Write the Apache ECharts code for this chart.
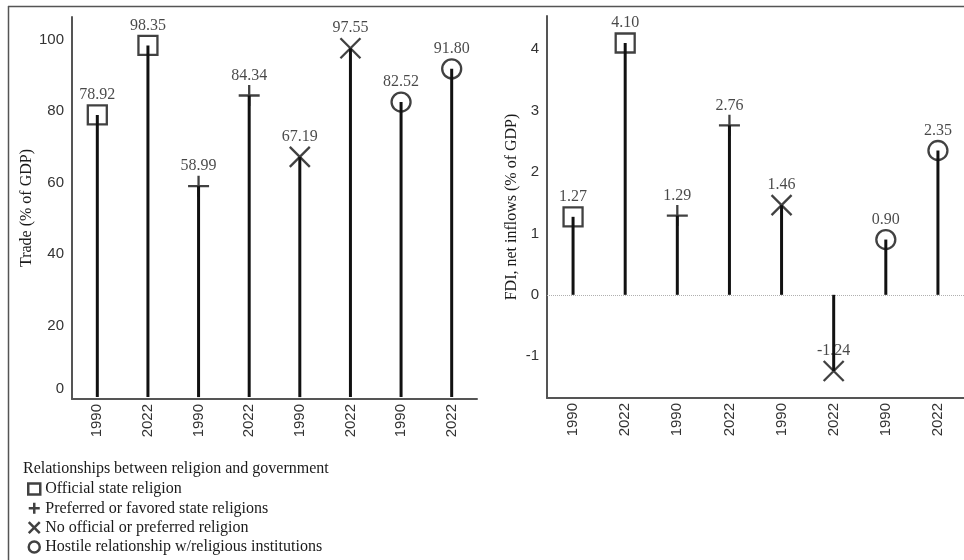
<!DOCTYPE html>
<html>
<head>
<meta charset="utf-8">
<title>Trade and FDI by religion–government relationship</title>
<script src="https://cdn.jsdelivr.net/npm/echarts@6/dist/echarts.min.js"></script>
<style>
  html, body { margin: 0; padding: 0; background: #fff; }
  #chart { width: 964px; height: 560px; }
</style>
</head>
<body>
<div id="chart"></div>
<script>
// Category labels along both x axes (two years per group)
const years = ['1990', '2022', '1990', '2022', '1990', '2022', '1990', '2022'];

// Relationship groups, in the order they appear along the axis
const groups = [
  'Official state religion',
  'Preferred or favored state religions',
  'No official or preferred religion',
  'Hostile relationship w/religious institutions'
];

// Trade (% of GDP), one value per category slot
const trade = [78.92, 98.35, 58.99, 84.34, 67.19, 97.55, 82.52, 91.80];

// FDI, net inflows (% of GDP), one value per category slot
const fdi = [1.27, 4.10, 1.29, 2.76, 1.46, -1.24, 0.90, 2.35];

// Marker shape for each group
const symbols = [
  'rect',
  'path://M0,10L20,10M10,0L10,20',
  'path://M0,0L20,20M20,0L0,20',
  'circle'
];
const symbolSizes = [19, 21, 20, 19];

const SERIF = '"Liberation Serif", "Times New Roman", serif';
const SANS = '"Liberation Sans", Arial, sans-serif';

function stemSeries(values, axisIdx, withZeroLine) {
  const s = {
    type: 'bar',
    name: 'stem' + axisIdx,
    xAxisIndex: axisIdx,
    yAxisIndex: axisIdx,
    data: values,
    barWidth: 3,
    itemStyle: { color: '#111' },
    z: 2,
    silent: true
  };
  if (withZeroLine) {
    s.markLine = {
      silent: true,
      symbol: 'none',
      label: { show: false },
      lineStyle: { type: 'dotted', color: '#b0b0b0', width: 1 },
      data: [{ yAxis: 0 }],
      z: 1
    };
  }
  return s;
}

function markerSeries(values, axisIdx) {
  return groups.map((g, i) => ({
    type: 'scatter',
    name: g,
    xAxisIndex: axisIdx,
    yAxisIndex: axisIdx,
    symbol: symbols[i],
    symbolSize: symbolSizes[i],
    itemStyle: { color: 'rgba(0,0,0,0)', borderColor: '#111', borderWidth: 2.3 },
    label: {
      show: true,
      position: 'inside',
      offset: [0, -20],
      fontFamily: SERIF,
      fontSize: 16,
      color: '#1a1a1a',
      formatter: p => p.value[1].toFixed(2)
    },
    z: 3,
    data: [[2 * i, values[2 * i]], [2 * i + 1, values[2 * i + 1]]]
  }));
}

const xAxisBase = {
  type: 'category',
  data: years,
  axisLine: { onZero: false, lineStyle: { color: '#555', width: 2 } },
  axisTick: { show: false },
  axisLabel: {
    rotate: 90,
    margin: 5,
    fontFamily: SANS,
    fontSize: 15,
    color: '#333'
  },
  splitLine: { show: false }
};

const yLabelBase = {
  margin: 8,
  fontFamily: SANS,
  fontSize: 15,
  color: '#333',
  showMinLabel: false,
  showMaxLabel: false
};

const option = {
  animation: false,
  backgroundColor: '#fff',
  grid: [
    { left: 72, top: 17, width: 405, height: 382 },
    { left: 547, top: 16, width: 417, height: 382 }
  ],
  xAxis: [
    Object.assign({ gridIndex: 0 }, xAxisBase),
    Object.assign({ gridIndex: 1 }, xAxisBase)
  ],
  yAxis: [
    {
      gridIndex: 0,
      type: 'value',
      min: -0.53,
      max: 106.3,
      name: 'Trade (% of GDP)',
      nameLocation: 'middle',
      nameGap: 37,
      nameTextStyle: { fontFamily: SERIF, fontSize: 16, color: '#1a1a1a' },
      axisLine: { show: true, lineStyle: { color: '#555', width: 2 } },
      axisTick: { show: false },
      splitLine: { show: false },
      axisLabel: Object.assign({}, yLabelBase, {
        formatter: v => (v === 0 ? '{z|0}' : String(v)),
        rich: { z: { fontFamily: SANS, fontSize: 15, color: '#333', padding: [0, 0, 17, 0] } }
      })
    },
    {
      gridIndex: 1,
      type: 'value',
      min: -1.68,
      max: 4.54,
      name: 'FDI, net inflows (% of GDP)',
      nameLocation: 'middle',
      nameGap: 27,
      nameTextStyle: { fontFamily: SERIF, fontSize: 16, color: '#1a1a1a' },
      axisLine: { show: true, onZero: false, lineStyle: { color: '#555', width: 2 } },
      axisTick: { show: false },
      splitLine: { show: false },
      axisLabel: Object.assign({}, yLabelBase)
    }
  ],
  legend: {
    orient: 'vertical',
    left: 27,
    top: 481,
    padding: 0,
    itemWidth: 12,
    itemHeight: 11,
    itemGap: 3.3,
    data: groups,
    selectedMode: false,
    itemStyle: { borderWidth: 2.5 },
    textStyle: { fontFamily: SERIF, fontSize: 16, color: '#1a1a1a', lineHeight: 16 }
  },
  graphic: [
    {
      type: 'line',
      shape: { x1: 8, y1: 6.5, x2: 964, y2: 6.5 },
      style: { stroke: '#555', lineWidth: 1.5 },
      silent: true
    },
    {
      type: 'line',
      shape: { x1: 8.5, y1: 6, x2: 8.5, y2: 560 },
      style: { stroke: '#555', lineWidth: 1.5 },
      silent: true
    },
    {
      type: 'text',
      left: 23,
      top: 461,
      style: {
        text: 'Relationships between religion and government',
        fontFamily: SERIF,
        fontSize: 16,
        fill: '#1a1a1a'
      }
    }
  ],
  series: [
    stemSeries(trade, 0, false),
    ...markerSeries(trade, 0),
    stemSeries(fdi, 1, true),
    ...markerSeries(fdi, 1)
  ]
};

const chart = echarts.init(document.getElementById('chart'), null, { renderer: 'canvas' });
chart.setOption(option);
</script>
</body>
</html>
